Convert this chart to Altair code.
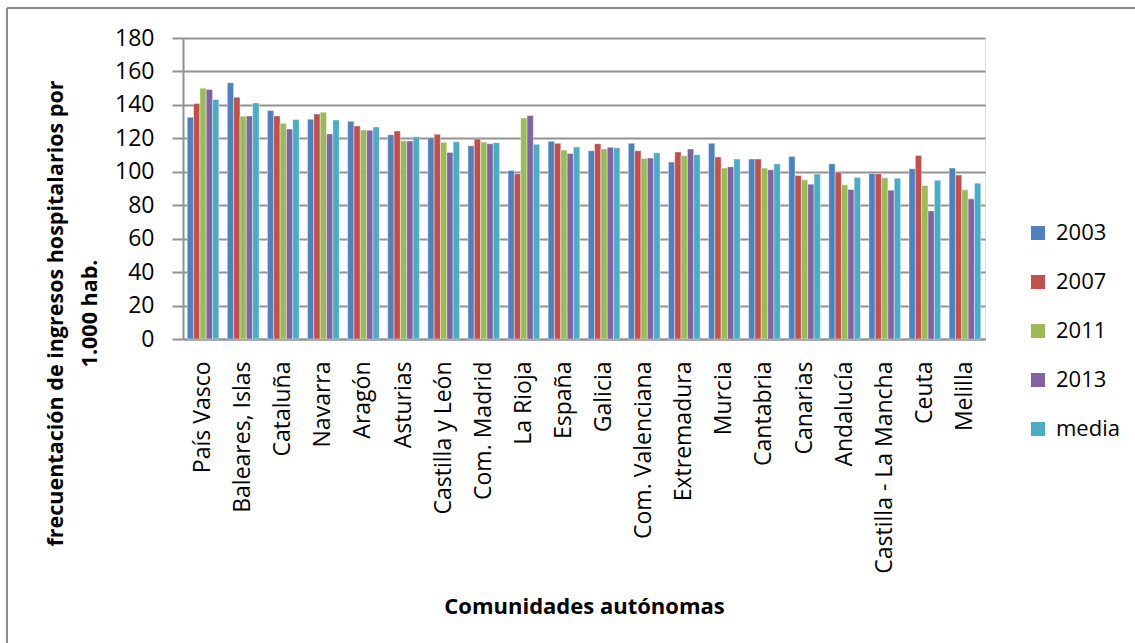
import altair as alt
import pandas as pd

# Comunidades autónomas, in chart order
comunidades = [
    "País Vasco", "Baleares, Islas", "Cataluña", "Navarra", "Aragón",
    "Asturias", "Castilla y León", "Com. Madrid", "La Rioja", "España",
    "Galicia", "Com. Valenciana", "Extremadura", "Murcia", "Cantabria",
    "Canarias", "Andalucía", "Castilla - La Mancha", "Ceuta", "Melilla",
]

series = ["2003", "2007", "2011", "2013", "media"]
colors = ["#4F81BD", "#C0504D", "#9BBB59", "#8064A2", "#4BACC6"]

# hospital admissions per 1.000 inhabitants
v2003 = [132.6, 153.2, 136.6, 131.4, 130.2, 122.2, 120.4, 115.6, 100.8, 118.2,
         112.6, 117.0, 105.8, 117.0, 107.6, 109.2, 104.8, 99.0, 101.8, 102.2]
v2007 = [140.8, 144.6, 133.4, 134.6, 127.4, 124.4, 122.4, 119.6, 98.8, 117.0,
         116.8, 112.6, 111.8, 108.8, 107.6, 97.8, 99.8, 98.8, 109.8, 98.0]
v2011 = [150.0, 133.2, 129.0, 135.6, 125.0, 118.6, 117.6, 117.8, 132.2, 113.0,
         113.6, 108.0, 109.6, 102.2, 102.2, 95.2, 92.2, 96.4, 91.8, 89.2]
v2013 = [149.2, 133.4, 125.6, 122.6, 124.8, 118.4, 111.6, 116.8, 133.6, 111.0,
         114.6, 108.2, 113.6, 103.0, 101.2, 92.6, 89.4, 89.0, 76.6, 83.8]
vmedia = [143.2, 141.2, 131.2, 131.0, 126.8, 121.0, 118.0, 117.4, 116.4, 114.8,
          114.4, 111.4, 110.2, 107.6, 104.8, 98.6, 96.6, 96.2, 95.0, 93.2]

y_ticks = [0, 20, 40, 60, 80, 100, 120, 140, 160, 180]

rows = []
for name, vals in zip(series, [v2003, v2007, v2011, v2013, vmedia]):
    for c, v in zip(comunidades, vals):
        rows.append({"comunidad": c, "serie": name, "valor": v})
df = pd.DataFrame(rows)

FONT = "Open Sans"
GRID = "#929292"

bars = alt.Chart(df).mark_bar(stroke="#ffffff", strokeWidth=0.6, strokeOpacity=0.7).encode(
    x=alt.X(
        "comunidad:N",
        sort=comunidades,
        scale=alt.Scale(paddingInner=0.21, paddingOuter=0.105),
        axis=alt.Axis(
            title="Comunidades autónomas",
            titleFont=FONT, titleFontSize=22, titleFontWeight="bold", titleColor="#000000",
            titleY=274, titleBaseline="alphabetic",
            labelAngle=-90, labelAlign="right", labelBaseline="middle",
            labelFont=FONT, labelFontSize=23, labelColor="#000000",
            labelPadding=22, labelLimit=0, ticks=False,
            domainColor=GRID, domainWidth=2,
        ),
    ),
    xOffset=alt.XOffset("serie:N", sort=series),
    y=alt.Y(
        "valor:Q",
        scale=alt.Scale(domain=[0, 180], nice=False),
        axis=alt.Axis(
            title=["frecuentación de ingresos hospitalarios por", "1.000 hab."],
            titleFont=FONT, titleFontSize=21.5, titleFontWeight="bold", titleColor="#000000",
            titleAngle=270, titleX=-121, titleY=275, titleAlign="center",
            titleBaseline="alphabetic", titleLineHeight=34,
            values=y_ticks, labelFont=FONT, labelFontSize=23, labelColor="#000000",
            labelPadding=18, tickSize=11, tickColor=GRID, tickWidth=2,
            gridColor=GRID, gridWidth=2, domainColor=GRID, domainWidth=2,
        ),
    ),
    color=alt.Color(
        "serie:N",
        sort=series,
        scale=alt.Scale(domain=series, range=colors),
        legend=alt.Legend(
            title=None, orient="none", legendX=844, legendY=184,
            symbolType="square", symbolSize=196, symbolStrokeWidth=0,
            labelFont=FONT, labelFontSize=22, labelColor="#000000",
            labelOffset=7, rowPadding=27, padding=0,
        ),
    ),
)

# chart frame: top and left edges
frame = alt.Chart(alt.Data(values=[{}]))
frame_top = frame.mark_rule(color="#8c8c8c", strokeWidth=2).encode(
    x=alt.value(-176), x2=alt.value(1000), y=alt.value(-30)
)
frame_left = frame.mark_rule(color="#8c8c8c", strokeWidth=2).encode(
    x=alt.value(-176), y=alt.value(-30), y2=alt.value(610)
)

chart = alt.layer(bars, frame_top, frame_left).properties(
    width=802,
    height=301,
    autosize=alt.AutoSizeParams(type="none"),
    padding={"left": 183, "top": 38, "right": 150, "bottom": 304},
).configure_view(stroke=None).configure(background="#ffffff")

chart.save("out.html", embed_options={"renderer": "svg", "actions": False})
